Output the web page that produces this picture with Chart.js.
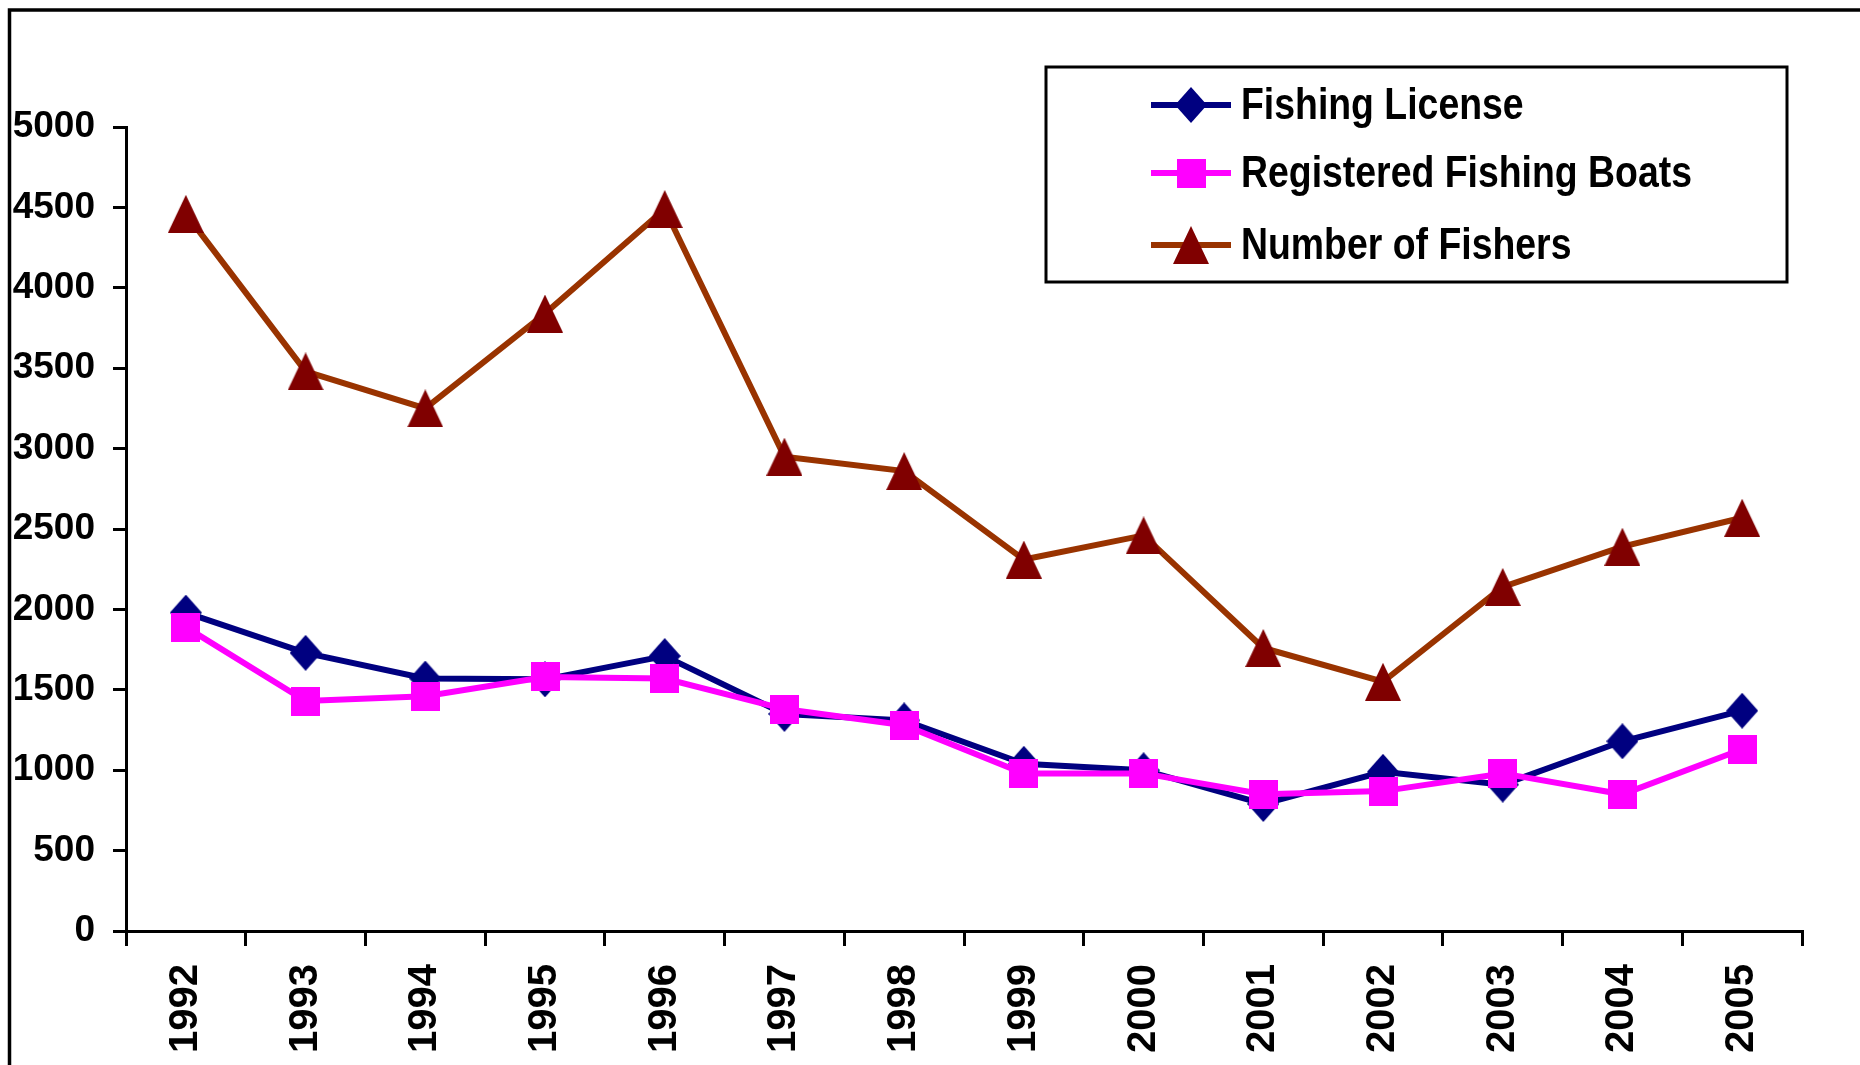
<!DOCTYPE html>
<html>
<head>
<meta charset="utf-8">
<script src="https://cdn.jsdelivr.net/npm/chart.js@4.4.1/dist/chart.umd.min.js"></script>
<style>
  html, body { margin: 0; padding: 0; background: #ffffff; }
  #c { display: block; }
</style>
</head>
<body>
<canvas id="c" width="1860" height="1065"></canvas>
<script>
// ---- Data ----
const years = ['1992','1993','1994','1995','1996','1997','1998','1999','2000','2001','2002','2003','2004','2005'];
const fishingLicense = [1980, 1730, 1570, 1565, 1710, 1350, 1310, 1040, 1000, 790, 990, 910, 1180, 1370];
const registeredBoats = [1890, 1430, 1460, 1580, 1570, 1380, 1280, 980, 980, 850, 870, 980, 850, 1130];
const numberOfFishers = [4460, 3480, 3250, 3840, 4490, 2950, 2860, 2310, 2460, 1760, 1550, 2140, 2390, 2570];
const seriesNames = ['Fishing License', 'Registered Fishing Boats', 'Number of Fishers'];
const yTicks = [0, 500, 1000, 1500, 2000, 2500, 3000, 3500, 4000, 4500, 5000];

const FONT = "'Liberation Sans', Arial, Helvetica, sans-serif";

// ---- Marker images ----
function marker(kind, w, h, color) {
  const cv = document.createElement('canvas');
  cv.width = w; cv.height = h;
  const g = cv.getContext('2d');
  g.fillStyle = color;
  g.beginPath();
  if (kind === 'diamond') {
    g.moveTo(w / 2, 0); g.lineTo(w, h / 2); g.lineTo(w / 2, h); g.lineTo(0, h / 2);
  } else if (kind === 'triangle') {
    g.moveTo(w / 2, 0); g.lineTo(w, h); g.lineTo(0, h);
  } else {
    g.rect(0, 0, w, h);
  }
  g.closePath();
  g.fill();
  return cv;
}
const diamondImg = marker('diamond', 32, 36, '#000080');
const squareImg = marker('square', 29, 29, '#FF00FF');
const triangleImg = marker('triangle', 36, 38, '#800000');

// ---- Plugins: outer frame and legend box ----
const framePlugin = {
  id: 'frame',
  beforeDraw(chart) {
    const ctx = chart.ctx;
    ctx.save();
    ctx.fillStyle = '#ffffff';
    ctx.fillRect(0, 0, chart.width, chart.height);
    ctx.strokeStyle = '#000000';
    ctx.lineWidth = 3.5;
    ctx.strokeRect(9.5, 10, 1900, 1100);
    ctx.restore();
  }
};

const legendBoxPlugin = {
  id: 'legendBox',
  afterDraw(chart) {
    const ctx = chart.ctx;
    const box = { x: 1046, y: 67, w: 741, h: 215 };
    const rows = [105, 173, 245];
    ctx.save();
    ctx.fillStyle = '#ffffff';
    ctx.fillRect(box.x, box.y, box.w, box.h);
    ctx.strokeStyle = '#000000';
    ctx.lineWidth = 3;
    ctx.strokeRect(box.x, box.y, box.w, box.h);
    chart.data.datasets.forEach((ds, i) => {
      const y = rows[i];
      ctx.strokeStyle = ds.borderColor;
      ctx.lineWidth = ds.borderWidth;
      ctx.beginPath();
      ctx.moveTo(1151, y);
      ctx.lineTo(1231, y);
      ctx.stroke();
      const img = ds.pointStyle;
      ctx.drawImage(img, 1191 - img.width / 2, y - img.height / 2);
      // condensed bold text, like the narrow face of the original
      ctx.save();
      ctx.translate(1241, y + 2);
      ctx.scale(0.85, 1);
      ctx.fillStyle = '#000000';
      ctx.font = 'bold 44px ' + FONT;
      ctx.textBaseline = 'middle';
      ctx.textAlign = 'left';
      ctx.fillText(ds.label, 0, 0);
      ctx.restore();
    });
    ctx.restore();
  }
};

new Chart(document.getElementById('c'), {
  type: 'line',
  data: {
    labels: years,
    datasets: [
      {
        label: seriesNames[0],
        data: fishingLicense,
        borderColor: '#000080',
        backgroundColor: '#000080',
        borderWidth: 6,
        pointStyle: diamondImg,
        order: 2
      },
      {
        label: seriesNames[1],
        data: registeredBoats,
        borderColor: '#FF00FF',
        backgroundColor: '#FF00FF',
        borderWidth: 6,
        pointStyle: squareImg,
        order: 1
      },
      {
        label: seriesNames[2],
        data: numberOfFishers,
        borderColor: '#993300',
        backgroundColor: '#800000',
        borderWidth: 6,
        pointStyle: triangleImg,
        order: 0
      }
    ]
  },
  options: {
    responsive: false,
    devicePixelRatio: 1,
    animation: false,
    events: [],
    layout: { padding: { top: 127, right: 58, left: 0, bottom: 0 } },
    elements: {
      line: { tension: 0, fill: false },
      point: { radius: 14, hoverRadius: 14 }
    },
    plugins: {
      legend: { display: false },
      tooltip: { enabled: false },
      title: { display: false }
    },
    scales: {
      x: {
        type: 'category',
        offset: true,
        grid: {
          offset: true,
          drawOnChartArea: false,
          drawTicks: true,
          tickLength: 15,
          color: '#000000',
          lineWidth: 3
        },
        border: { color: '#000000', width: 3 },
        ticks: {
          autoSkip: false,
          minRotation: 90,
          maxRotation: 90,
          padding: 18,
          color: '#000000',
          font: { family: FONT, size: 40, weight: 'bold' }
        },
        afterFit(scale) { scale.height = 134; }
      },
      y: {
        min: 0,
        max: 5000,
        afterBuildTicks(scale) { scale.ticks = yTicks.map(v => ({ value: v })); },
        grid: {
          drawOnChartArea: false,
          drawTicks: true,
          tickLength: 13,
          color: '#000000',
          lineWidth: 3
        },
        border: { color: '#000000', width: 3 },
        ticks: {
          padding: 18,
          color: '#000000',
          font: { family: FONT, size: 37, weight: 'bold' },
          callback: (v) => String(v)
        },
        afterFit(scale) { scale.width = 126; }
      }
    }
  },
  plugins: [framePlugin, legendBoxPlugin]
});
</script>
</body>
</html>
